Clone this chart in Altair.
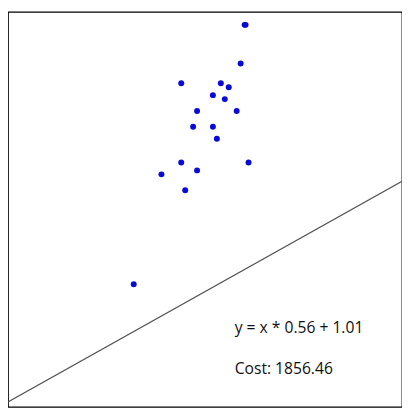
import altair as alt
import pandas as pd

# scatter data (x, y)
xs = [239, 240, 235, 175, 215, 223, 207, 219, 191, 231, 187, 207, 211, 175, 243, 155, 191, 179, 127]
ys = [382, 382, 343, 323, 323, 319, 311, 307, 295, 295, 279, 279, 267, 243, 243, 231, 235, 215, 120]

# regression line endpoints: y = x * 0.56 + 1.01
line_x = [0, 398]
line_y = [1.01, 223.89]

labels = ["y = x * 0.56 + 1.01", "Cost: 1856.46"]
label_x = [229, 229]
label_y = [76, 34]

pts = pd.DataFrame({"x": xs, "y": ys})
ln = pd.DataFrame({"x": line_x, "y": line_y})
tx = pd.DataFrame({"x": label_x, "y": label_y, "t": labels})

xsc = alt.Scale(domain=[0, 398], nice=False, zero=False)
ysc = alt.Scale(domain=[-4, 395], nice=False, zero=False)

points = alt.Chart(pts).mark_circle(size=36, color="#0a0ad8", opacity=1).encode(
    x=alt.X("x:Q", scale=xsc, axis=None),
    y=alt.Y("y:Q", scale=ysc, axis=None),
)
line = alt.Chart(ln).mark_line(color="#555555", strokeWidth=1.2, clip=True).encode(
    x=alt.X("x:Q", scale=xsc, axis=None),
    y=alt.Y("y:Q", scale=ysc, axis=None),
)
text = alt.Chart(tx).mark_text(align="left", baseline="middle", fontSize=15.8,
                               font="Open Sans", color="#111111").encode(
    x=alt.X("x:Q", scale=xsc, axis=None),
    y=alt.Y("y:Q", scale=ysc, axis=None),
    text="t:N",
)

chart = (line + points + text).properties(
    width=398, height=399,
    padding={"left": 0, "top": 2, "right": 0, "bottom": 0},
).configure_view(stroke="#000000", strokeWidth=1.3)

chart.save("out.html", embed_options={"renderer": "svg", "actions": False})
